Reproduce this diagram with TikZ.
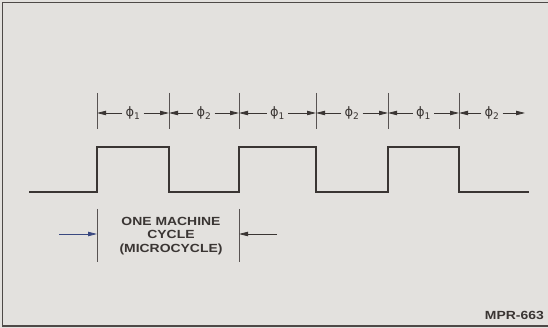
\documentclass[tikz,border=0pt]{standalone}
\usepackage{fontspec}
\setmainfont{Liberation Sans}
\newfontfamily\lblfont{Liberation Sans}[FakeStretch=1.18]
\newfontfamily\phfont{DejaVu Sans}
\usetikzlibrary{arrows.meta,positioning,calc}
\definecolor{paper}{HTML}{E3E1DE}
\definecolor{ink}{HTML}{3A3533}
\definecolor{bluink}{HTML}{3A4880}
\tikzset{
  wave/.style={draw=ink,line width=2.9pt,line join=miter},
  tckline/.style={draw=ink!85,line width=0.9pt},
  framebox/.style={draw=ink!90,line width=1.6pt},
  arr/.style={-{Triangle[length=9pt,width=4.4pt]},draw=ink,line width=0.8pt},
  phlbl/.style={font=\phfont\fontsize{13}{15}\selectfont,text=ink,inner sep=3pt},
  cyclbl/.style={font=\lblfont\fontsize{11.8}{13.3}\selectfont\bfseries,text=ink,align=center,inner sep=0pt}
}
\begin{document}
\begin{tikzpicture}[x=1pt,y=-1pt]
  \useasboundingbox (0,0) rectangle (548,328);
  \fill[paper] (0,0) rectangle (548,328);
  % Frame
  \draw[framebox] (548,2.5) -- (2.5,2.5) -- (2.5,326) -- (548,326);

  % Clock edges and ticks
  \foreach \n/\x in {0/97,1/169,2/239,3/316,4/388,5/459}{
    \coordinate (t\n) at (\x,113);
    \draw[tckline] (\x,93) -- (\x,129);
  }
  \coordinate (t6) at (525,113);

  % Phase labels
  \foreach \n/\p in {0/1,1/2,2/1,3/2,4/1,5/2}{
    \pgfmathtruncatemacro\m{\n+1}
    \node[phlbl] (ph\n) at ($(t\n)!0.5!(t\m)$) {ϕ\textsubscript{\p}};
    \draw[arr] (ph\n.west) -- (t\n);
    \draw[arr] (ph\n.east) -- (t\m);
  }

  % Clock waveform
  \draw[wave] (29,192) -| (97,147) -| (169,192) -| (239,147) -| (316,192)
    -| (388,147) -| (459,192) -- (529,192);

  % Machine cycle
  \draw[tckline] (97,209) -- (97,262);
  \draw[tckline] (239,209) -- (239,262);
  \coordinate (c0) at (97,234);
  \coordinate (c1) at (239,234);
  \coordinate (cin) at (59,234);
  \coordinate (cout) at (277,234);
  \node[cyclbl] (cyc) at (171,236) {ONE MACHINE\\CYCLE\\(MICROCYCLE)};
  \draw[arr,draw=bluink] (cin) -- (c0);
  \draw[arr] (cout) -- (c1);

  % Figure number
  \node[cyclbl,anchor=east] (fignum) at (544,315) {MPR-663};
\end{tikzpicture}
\end{document}
